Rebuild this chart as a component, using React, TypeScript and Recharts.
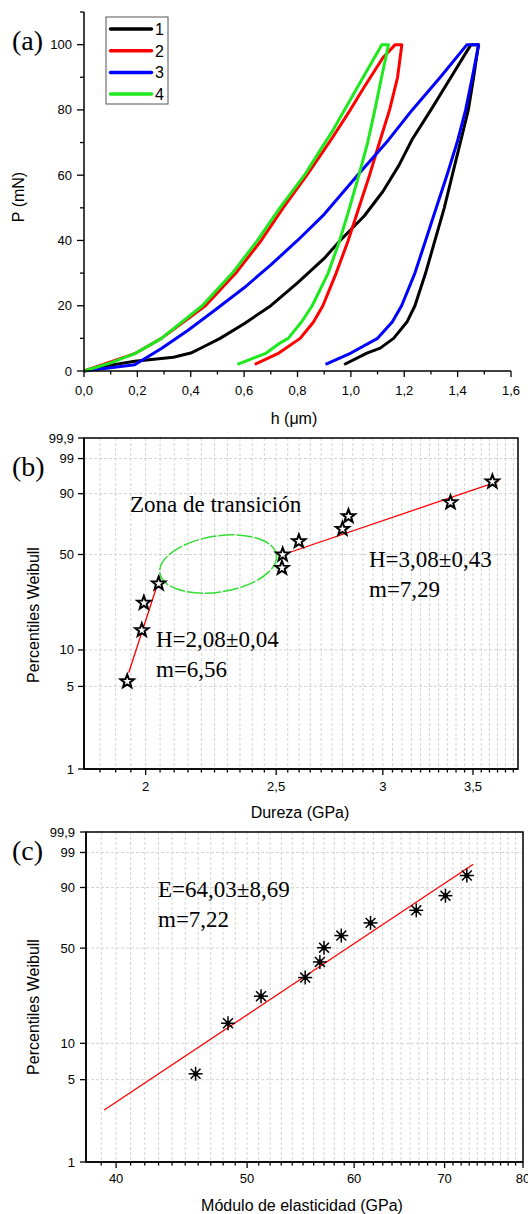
import React from 'react';
import {
  LineChart,
  ComposedChart,
  Line,
  Scatter,
  XAxis,
  YAxis,
  CartesianGrid,
  ReferenceArea,
  ReferenceDot,
} from 'recharts';

const SANS = 'Arial, "Liberation Sans", sans-serif';
const SERIF = '"Times New Roman", "Liberation Serif", serif';

// (a) load (mN) vs depth (um): loading branch, then unloading branch
const c1H = [0, 0.1, 0.19, 0.335, 0.4, 0.45, 0.51, 0.6, 0.7, 0.8, 0.9, 0.96, 1.05, 1.12, 1.18, 1.23, 1.3, 1.375, 1.45, 1.478, 1.46, 1.44, 1.41, 1.38, 1.35, 1.315, 1.28, 1.24, 1.21, 1.16, 1.11, 1.06, 0.975];
const c1P = [0, 1.8, 3, 4.2, 5.5, 7.5, 10, 14.5, 20, 27, 34.5, 40, 47.5, 55, 63, 71, 80, 90, 100, 100, 90, 80, 70, 60, 50, 40, 30, 20, 15, 10, 7, 5.5, 2];
const c2H = [0, 0.1, 0.19, 0.29, 0.455, 0.569, 0.664, 0.746, 0.835, 0.885, 0.93, 0.99, 1.05, 1.12, 1.166, 1.191, 1.175, 1.145, 1.107, 1.07, 1.03, 0.99, 0.945, 0.895, 0.86, 0.81, 0.73, 0.64];
const c2P = [0, 2.8, 5.3, 10, 20, 30, 40, 50, 60, 66, 71.4, 79, 87, 96, 100, 100, 90, 80, 70, 60, 50, 40, 30, 20, 15, 10, 5.5, 2];
const c3H = [0, 0.19, 0.29, 0.39, 0.49, 0.6, 0.7, 0.8, 0.9, 1.025, 1.141, 1.23, 1.335, 1.435, 1.479, 1.455, 1.43, 1.398, 1.36, 1.32, 1.28, 1.24, 1.19, 1.155, 1.1, 1.0, 0.905];
const c3P = [0, 1.9, 6.9, 12.5, 18.6, 25.5, 32.5, 40, 48, 60, 70.8, 80, 90, 100, 100, 90, 80, 70, 60, 50, 40, 30, 20, 15, 10, 5.5, 2];
const c4H = [0, 0.1, 0.19, 0.29, 0.443, 0.556, 0.65, 0.734, 0.826, 0.88, 0.934, 0.976, 1.046, 1.116, 1.141, 1.115, 1.09, 1.063, 1.03, 0.995, 0.958, 0.915, 0.855, 0.815, 0.765, 0.733, 0.683, 0.575];
const c4P = [0, 2.5, 5.3, 10, 20, 30, 40, 50, 60, 67, 73.9, 80, 90, 100, 100, 90, 80, 70, 60, 50, 40, 30, 20, 15, 10, 8.5, 5.5, 2];

const curveNames = ['1', '2', '3', '4'];
const curveColors = ['#000000', '#ff0000', '#0000ff', '#1ee81e'];
const curveH = [c1H, c2H, c3H, c4H];
const curveP = [c1P, c2P, c3P, c4P];

const hTicks = [0, 0.2, 0.4, 0.6, 0.8, 1.0, 1.2, 1.4, 1.6];
const hMinor = [0.1, 0.3, 0.5, 0.7, 0.9, 1.1, 1.3, 1.5];
const pTicks = [0, 20, 40, 60, 80, 100];
const pMinor = [10, 30, 50, 70, 90, 110];

// (b) hardness Weibull plot
const durezaGPa = [1.938, 1.987, 1.994, 2.045, 2.525, 2.528, 2.599, 2.8, 2.829, 3.368, 3.618];
const durezaPct = [5.5, 14.4, 23.4, 32.3, 41.2, 49.9, 59.3, 68.2, 77.1, 85.6, 94.6];
const fitLowGPa = [1.943, 2.052];
const fitLowPct = [6.5, 37.3];
const fitHighGPa = [2.531, 3.655];
const fitHighPct = [50, 94.7];
const zonaCenterGPa = 2.264;
const zonaCenterPct = 43.7;
const durezaTicks = [2, 2.5, 3, 3.5];
const durezaMinor = [1.85, 1.9, 1.95, 2.05, 2.1, 2.15, 2.2, 2.25, 2.3, 2.35, 2.4, 2.45, 2.55, 2.6, 2.65, 2.7, 2.75, 2.8, 2.85, 2.9, 2.95, 3.05, 3.1, 3.15, 3.2, 3.25, 3.3, 3.35, 3.4, 3.45, 3.55, 3.6, 3.65, 3.7, 3.75];

// (c) elastic modulus Weibull plot
const moduloGPa = [45.8, 48.4, 51.2, 55.2, 56.6, 57.0, 58.7, 61.7, 66.7, 70.1, 72.7];
const moduloPct = [5.6, 14.5, 23.5, 32.1, 41.0, 50.3, 58.9, 68.1, 76.9, 85.9, 94.6];
const fitEGPa = [39.2, 73.5];
const fitEPct = [2.77, 97.4];
const moduloTicks = [40, 50, 60, 70, 80];
const moduloMinor = [39, 41, 42, 43, 44, 45, 46, 47, 48, 49, 51, 52, 53, 54, 55, 56, 57, 58, 59, 61, 62, 63, 64, 65, 66, 67, 68, 69, 71, 72, 73, 74, 75, 76, 77, 78, 79];

const pctTicks = [1, 5, 10, 50, 90, 99, 99.9];
const pctLabels = ['1', '5', '10', '50', '90', '99', '99,9'];

// Weibull probability axis
const wb = (p: number) => Math.log(-Math.log(1 - p / 100));
const W_MIN = wb(1);
const W_MAX = wb(99.9);

const comma = (v: number, d?: number) => (d === undefined ? String(v) : v.toFixed(d)).replace('.', ',');
const near = (arr: number[], v: number) => arr.findIndex((m) => Math.abs(m - v) < 1e-6);

function xTick(major: number[], fmt: (v: number) => string, majLen: number, minLen: number, dy: number) {
  return (props: any) => {
    const { x, y, payload } = props;
    const isMajor = near(major, payload.value) >= 0;
    return (
      <g>
        <line x1={x} x2={x} y1={y} y2={y + (isMajor ? majLen : minLen)} stroke="#000" strokeWidth={1.3} />
        {isMajor && (
          <text x={x} y={y + dy} textAnchor="middle" fontFamily={SANS} fontSize={13} fill="#000">
            {fmt(payload.value)}
          </text>
        )}
      </g>
    );
  };
}

function yTick(major: number[], fmt: (v: number) => string, majLen: number, minLen: number, dx: number) {
  return (props: any) => {
    const { x, y, payload } = props;
    const isMajor = near(major, payload.value) >= 0;
    return (
      <g>
        <line x1={x} x2={x - (isMajor ? majLen : minLen)} y1={y} y2={y} stroke="#000" strokeWidth={1.3} />
        {isMajor && (
          <text x={x - dx} y={y + 4.5} textAnchor="end" fontFamily={SANS} fontSize={13} fill="#000">
            {fmt(payload.value)}
          </text>
        )}
      </g>
    );
  };
}

const pctFmt = (v: number) => pctLabels[near(pctTicks.map(wb), v)] ?? '';

const StarMark = (props: any) => {
  const { cx, cy } = props;
  const pts: string[] = [];
  for (let k = 0; k < 10; k++) {
    const r = k % 2 ? 2.9 : 7;
    const a = -Math.PI / 2 + (k * Math.PI) / 5;
    pts.push(`${cx + r * Math.cos(a)},${cy + r * Math.sin(a)}`);
  }
  return <polygon points={pts.join(' ')} fill="#fff" stroke="#000" strokeWidth={2} />;
};

const AsteriskMark = (props: any) => {
  const { cx, cy } = props;
  return (
    <g stroke="#000" strokeWidth={1.5}>
      {[0, 45, 90, 135].map((d) => {
        const a = (d * Math.PI) / 180;
        return <line key={d} x1={cx - 7 * Math.cos(a)} y1={cy - 7 * Math.sin(a)} x2={cx + 7 * Math.cos(a)} y2={cy + 7 * Math.sin(a)} />;
      })}
      <circle cx={cx} cy={cy} r={1.8} fill="#000" />
    </g>
  );
};

const axisLine = { stroke: '#000', strokeWidth: 1.5 };

function PanelA() {
  return (
    <LineChart width={528} height={400} margin={{ top: 12, right: 17, bottom: 9, left: 44 }}>
      <XAxis
        type="number"
        dataKey="h"
        domain={[0, 1.6]}
        ticks={[...hTicks, ...hMinor].sort((a, b) => a - b)}
        interval={0}
        tickSize={0}
        tickMargin={0}
        tickLine={false}
        axisLine={axisLine}
        height={20}
        tick={xTick(hTicks, (v) => comma(v, 1), 6, 3.5, 24)}
      />
      <YAxis
        type="number"
        dataKey="P"
        domain={[0, 110]}
        ticks={[...pTicks, ...pMinor].sort((a, b) => a - b)}
        interval={0}
        tickSize={0}
        tickMargin={0}
        tickLine={false}
        axisLine={axisLine}
        width={40}
        tick={yTick(pTicks, (v) => String(v), 7, 4, 12)}
      />
      {curveNames.map((name, i) => (
        <Line
          key={name}
          name={name}
          data={curveH[i].map((h, j) => ({ h, P: curveP[i][j] }))}
          dataKey="P"
          type="linear"
          stroke={curveColors[i]}
          strokeWidth={3}
          strokeLinejoin="round"
          dot={false}
          isAnimationActive={false}
        />
      ))}
    </LineChart>
  );
}

function PanelB() {
  const pts = durezaGPa.map((x, i) => ({ x, y: wb(durezaPct[i]) }));
  const low = fitLowGPa.map((x, i) => ({ x, y: wb(fitLowPct[i]) }));
  const high = fitHighGPa.map((x, i) => ({ x, y: wb(fitHighPct[i]) }));
  return (
    <ComposedChart width={528} height={400} margin={{ top: 38, right: 10, bottom: 11, left: 44 }}>
      <CartesianGrid stroke="#d4d4d4" strokeDasharray="3 2" />
      <XAxis
        type="number"
        dataKey="x"
        scale="log"
        domain={[1.8, 3.78]}
        allowDataOverflow
        ticks={[...durezaTicks, ...durezaMinor].sort((a, b) => a - b)}
        interval={0}
        tickSize={0}
        tickMargin={0}
        tickLine={false}
        axisLine={axisLine}
        height={20}
        tick={xTick(durezaTicks, (v) => comma(v), 6, 3.5, 22)}
      />
      <YAxis
        type="number"
        dataKey="y"
        domain={[W_MIN, W_MAX]}
        allowDataOverflow
        ticks={pctTicks.map(wb)}
        interval={0}
        tickSize={0}
        tickMargin={0}
        tickLine={false}
        axisLine={axisLine}
        width={40}
        tick={yTick(pctTicks.map(wb), pctFmt, 6, 3, 10)}
      />
      <ReferenceArea x1={1.8} x2={3.78} y1={W_MIN} y2={W_MAX} fill="none" stroke="#000" strokeWidth={1.5} ifOverflow="visible" />
      <ReferenceDot
        x={zonaCenterGPa}
        y={wb(zonaCenterPct)}
        ifOverflow="visible"
        shape={(p: any) => (
          <ellipse
            cx={p.cx}
            cy={p.cy}
            rx={59}
            ry={28}
            transform={`rotate(-9 ${p.cx} ${p.cy})`}
            fill="none"
            stroke="#33dd33"
            strokeWidth={1.5}
            strokeDasharray="16 2"
          />
        )}
      />
      <Line data={low} dataKey="y" stroke="#ff0000" strokeWidth={1.3} dot={false} isAnimationActive={false} />
      <Line data={high} dataKey="y" stroke="#ff0000" strokeWidth={1.3} dot={false} isAnimationActive={false} />
      <Scatter data={pts} dataKey="y" shape={StarMark} isAnimationActive={false} />
    </ComposedChart>
  );
}

function PanelC() {
  const pts = moduloGPa.map((x, i) => ({ x, y: wb(moduloPct[i]) }));
  const fit = fitEGPa.map((x, i) => ({ x, y: wb(fitEPct[i]) }));
  return (
    <ComposedChart width={528} height={414} margin={{ top: 32, right: 5, bottom: 32, left: 46 }}>
      <CartesianGrid stroke="#d4d4d4" strokeDasharray="3 2" />
      <XAxis
        type="number"
        dataKey="x"
        scale="log"
        domain={[38, 80]}
        allowDataOverflow
        ticks={[...moduloTicks, ...moduloMinor].sort((a, b) => a - b)}
        interval={0}
        tickSize={0}
        tickMargin={0}
        tickLine={false}
        axisLine={axisLine}
        height={20}
        tick={xTick(moduloTicks, (v) => String(v), 6, 3.5, 21)}
      />
      <YAxis
        type="number"
        dataKey="y"
        domain={[W_MIN, W_MAX]}
        allowDataOverflow
        ticks={pctTicks.map(wb)}
        interval={0}
        tickSize={0}
        tickMargin={0}
        tickLine={false}
        axisLine={axisLine}
        width={40}
        tick={yTick(pctTicks.map(wb), pctFmt, 6, 3, 11)}
      />
      <ReferenceArea x1={38} x2={80} y1={W_MIN} y2={W_MAX} fill="none" stroke="#000" strokeWidth={1.5} ifOverflow="visible" />
      <Line data={fit} dataKey="y" stroke="#ff0000" strokeWidth={1.3} dot={false} isAnimationActive={false} />
      <Scatter data={pts} dataKey="y" shape={AsteriskMark} isAnimationActive={false} />
    </ComposedChart>
  );
}

export default function App() {
  return (
    <div style={{ position: 'absolute', left: 0, top: 0, width: 528, height: 1214, background: '#fff', overflow: 'hidden' }}>
      <div style={{ position: 'absolute', left: 0, top: 0 }}>
        <PanelA />
      </div>
      <div style={{ position: 'absolute', left: 0, top: 400 }}>
        <PanelB />
      </div>
      <div style={{ position: 'absolute', left: 0, top: 800 }}>
        <PanelC />
      </div>
      <svg width={528} height={1214} style={{ position: 'absolute', left: 0, top: 0, pointerEvents: 'none' }}>
        {/* legend of panel (a) */}
        <rect x={106} y={17} width={62} height={87} fill="#fff" stroke="#555" strokeWidth={1} />
        {curveNames.map((n, i) => (
          <g key={n}>
            <line x1={110.5} x2={151.5} y1={29 + i * 21.7} y2={29 + i * 21.7} stroke={curveColors[i]} strokeWidth={3.5} strokeLinecap="round" />
            <text x={155} y={35 + i * 21.7} fontFamily={SANS} fontSize={16} fill="#000">{n}</text>
          </g>
        ))}

        <g fontFamily={SERIF} fill="#000">
          <text x={12} y={50} fontSize={28}>(a)</text>
          <text x={12} y={476} fontSize={28}>(b)</text>
          <text x={12} y={860} fontSize={28}>(c)</text>
          <text x={130} y={512} fontSize={23}>Zona de transición</text>
          <text x={156} y={647} fontSize={23}>H=2,08±0,04</text>
          <text x={156} y={677} fontSize={23}>m=6,56</text>
          <text x={369} y={567} fontSize={23}>H=3,08±0,43</text>
          <text x={369} y={597} fontSize={23}>m=7,29</text>
          <text x={158} y={897} fontSize={23}>E=64,03±8,69</text>
          <text x={158} y={927} fontSize={23}>m=7,22</text>
        </g>

        <g fontFamily={SANS} fontSize={16} fill="#000" textAnchor="middle" dominantBaseline="central">
          <text x={18} y={197} transform="rotate(-90 18 197)">P (mN)</text>
          <text x={294} y={418}>h (μm)</text>
          <text x={33} y={615} transform="rotate(-90 33 615)">Percentiles Weibull</text>
          <text x={300} y={812}>Dureza (GPa)</text>
          <text x={33} y={1007} transform="rotate(-90 33 1007)">Percentiles Weibull</text>
          <text x={302} y={1205}>Módulo de elasticidad (GPa)</text>
        </g>
      </svg>
    </div>
  );
}
